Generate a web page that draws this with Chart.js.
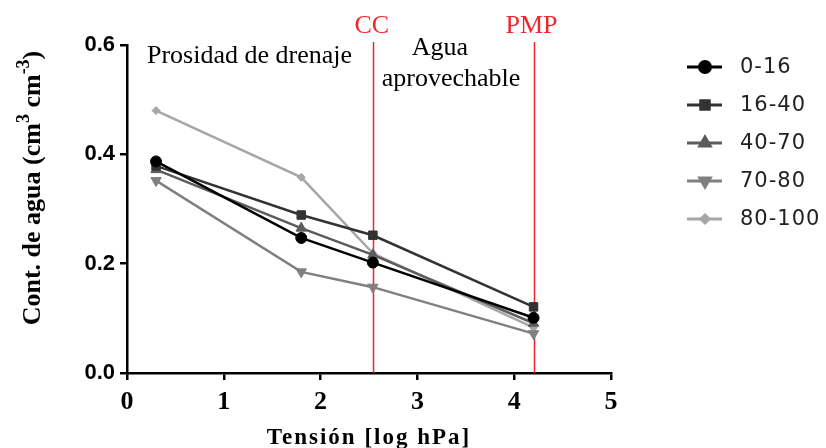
<!DOCTYPE html>
<html>
<head>
<meta charset="utf-8">
<script src="https://cdn.jsdelivr.net/npm/chart.js@4"></script>
<style>
  body { margin: 0; background: #fff; }
  canvas { display: block; }
</style>
</head>
<body>
<canvas id="chart" width="826" height="448"></canvas>
<script>
// tension values (log hPa) where water content was measured
const tension = [0.3, 1.8, 2.54, 4.2];
const depthLabels = ['0-16', '16-40', '40-70', '70-80', '80-100'];
const water0_16 = [0.387, 0.247, 0.202, 0.101];
const water16_40 = [0.379, 0.289, 0.252, 0.121];
const water40_70 = [0.372, 0.265, 0.216, 0.091];
const water70_80 = [0.352, 0.185, 0.157, 0.072];
const water80_100 = [0.480, 0.358, 0.219, 0.083];
const xTicks = [0, 1, 2, 3, 4, 5];
const yTicks = [0, 0.2, 0.4, 0.6];
const ccValue = 2.54;   // capacidad de campo
const pmpValue = 4.2;   // punto de marchitez permanente

const allSeries = [water0_16, water16_40, water40_70, water70_80, water80_100];
const colors = ['#000000', '#333333', '#5c5c5c', '#808080', '#a6a6a6'];
const markers = [
    { style: 'circle', r: 5.5, rot: 0 },
    { style: 'rect', r: 6, rot: 0 },
    { style: 'triangle', r: 6, rot: 0 },
    { style: 'triangle', r: 6, rot: 180 },
    { style: 'rectRot', r: 4, rot: 0 }
];

const datasets = allSeries.map((vals, i) => ({
    label: depthLabels[i],
    data: vals.map((v, j) => ({ x: tension[j], y: v })),
    borderColor: colors[i],
    backgroundColor: colors[i],
    borderWidth: 2.5,
    pointStyle: markers[i].style,
    pointRadius: markers[i].r,
    pointRotation: markers[i].rot,
    pointBorderWidth: 1,
    tension: 0
}));

const serif = '"Liberation Serif", "Times New Roman", serif';

// red CC / PMP lines go behind the series
const zoneLines = {
    id: 'zoneLines',
    beforeDatasetsDraw(chart) {
        const ctx = chart.ctx;
        const xs = chart.scales.x;
        const bottom = chart.chartArea.bottom;
        ctx.save();
        ctx.strokeStyle = '#f0262e';
        ctx.lineWidth = 1.5;
        [ccValue, pmpValue].forEach(v => {
            const px = Math.round(xs.getPixelForValue(v)) + 0.5;
            ctx.beginPath();
            ctx.moveTo(px, 42);
            ctx.lineTo(px, bottom);
            ctx.stroke();
        });
        ctx.restore();
    }
};

// texts, axis titles and the legend
const extras = {
    id: 'extras',
    afterDraw(chart) {
        const ctx = chart.ctx;
        const xs = chart.scales.x;
        const area = chart.chartArea;
        ctx.save();

        // CC and PMP labels
        ctx.fillStyle = '#f0262e';
        ctx.font = '26px ' + serif;
        ctx.textAlign = 'center';
        ctx.textBaseline = 'alphabetic';
        ctx.fillText('CC', xs.getPixelForValue(ccValue) - 1, 33);
        ctx.fillText('PMP', xs.getPixelForValue(pmpValue) - 2, 33);

        // zone labels
        ctx.fillStyle = '#000';
        ctx.font = '26px ' + serif;
        ctx.textAlign = 'left';
        ctx.fillText('Prosidad de drenaje', 147, 63);
        ctx.textAlign = 'center';
        ctx.fillText('Agua', 440, 55);
        ctx.fillText('aprovechable', 451, 86);

        // x axis title
        ctx.font = 'bold 23px ' + serif;
        ctx.letterSpacing = '2px';
        ctx.textBaseline = 'middle';
        ctx.fillText('Tensión [log hPa]', (area.left + area.right) / 2, 438);
        ctx.letterSpacing = '0px';

        // y axis title with superscripts
        ctx.translate(32, 188);
        ctx.rotate(-Math.PI / 2);
        const parts = [
            { t: 'Cont. de agua (cm', sup: false },
            { t: '3', sup: true },
            { t: ' cm', sup: false },
            { t: '-3', sup: true },
            { t: ')', sup: false }
        ];
        const big = 'bold 26px ' + serif;
        const small = 'bold 18px ' + serif;
        let total = 0;
        parts.forEach(p => {
            ctx.font = p.sup ? small : big;
            p.w = ctx.measureText(p.t).width;
            total += p.w;
        });
        let cx = -total / 2;
        ctx.textAlign = 'left';
        ctx.textBaseline = 'alphabetic';
        parts.forEach(p => {
            ctx.font = p.sup ? small : big;
            ctx.fillText(p.t, cx, p.sup ? -3 : 8);
            cx += p.w;
        });
        ctx.setTransform(1, 0, 0, 1, 0, 0);

        // legend
        ctx.font = '21px "DejaVu Sans", sans-serif';
        ctx.letterSpacing = '1px';
        ctx.textAlign = 'left';
        ctx.textBaseline = 'middle';
        datasets.forEach((ds, i) => {
            const y = 67 + i * 38;
            ctx.strokeStyle = ds.borderColor;
            ctx.lineWidth = 3;
            ctx.beginPath();
            ctx.moveTo(687, y);
            ctx.lineTo(722, y);
            ctx.stroke();
            ctx.fillStyle = ds.backgroundColor;
            Chart.helpers.drawPoint(ctx, {
                pointStyle: ds.pointStyle,
                radius: ds.pointRadius,
                rotation: ds.pointRotation,
                borderWidth: 1
            }, 705, y);
            ctx.fillStyle = '#222';
            ctx.fillText(ds.label, 740, y + 1);
        });
        ctx.restore();
    }
};

new Chart(document.getElementById('chart'), {
    type: 'line',
    data: { datasets: datasets },
    options: {
        responsive: false,
        animation: false,
        layout: { padding: { left: 0, top: 45, right: 215, bottom: 0 } },
        plugins: { legend: { display: false }, tooltip: { enabled: false } },
        scales: {
            x: {
                type: 'linear',
                min: xTicks[0],
                max: xTicks[xTicks.length - 1],
                afterFit: s => { s.height = 75; },
                afterBuildTicks: s => { s.ticks = xTicks.map(v => ({ value: v })); },
                border: { color: '#000', width: 2.5 },
                grid: { drawOnChartArea: false, drawTicks: true, tickLength: 7, color: '#000', lineWidth: 2.5 },
                ticks: {
                    color: '#000',
                    padding: 7,
                    maxRotation: 0,
                    font: { family: serif, size: 26, weight: 'bold' }
                }
            },
            y: {
                min: yTicks[0],
                max: yTicks[yTicks.length - 1],
                afterFit: s => { s.width = 127; },
                afterBuildTicks: s => { s.ticks = yTicks.map(v => ({ value: v })); },
                border: { color: '#000', width: 2.5 },
                grid: { drawOnChartArea: false, drawTicks: true, tickLength: 7, color: '#000', lineWidth: 2.5 },
                ticks: {
                    color: '#000',
                    padding: 5,
                    callback: v => v.toFixed(1),
                    font: { family: '"Liberation Sans", Arial, sans-serif', size: 22, weight: 'bold' }
                }
            }
        }
    },
    plugins: [zoneLines, extras]
});
</script>
</body>
</html>
